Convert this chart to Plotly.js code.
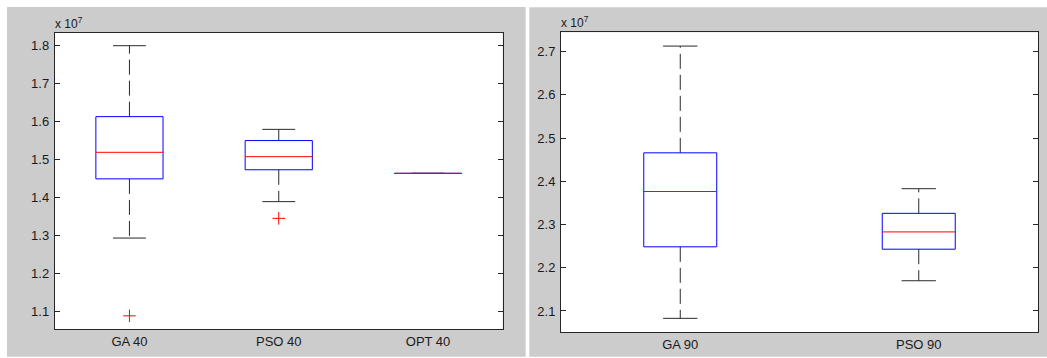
<!DOCTYPE html>
<html>
<head>
<meta charset="utf-8">
<script src="https://cdn.plot.ly/plotly-3.0.1.min.js"></script>
<style>html,body{margin:0;padding:0;background:#fff;}#chart{width:1047px;height:358px;}</style>
</head>
<body>
<div id="chart"></div>
<script>
// Values are in units of 10^7 (as shown on the axes)
const cats40 = ['GA 40', 'PSO 40', 'OPT 40'];
const lower40 = [1.293, 1.389, 1.4635];
const q1_40 = [1.449, 1.473, 1.4635];
const median40 = [1.519, 1.5075, 1.4635];
const q3_40 = [1.613, 1.550, 1.4635];
const upper40 = [1.800, 1.5795, 1.4635];
const outliers40 = [[1.088], [1.345], []];

const cats90 = ['GA 90', 'PSO 90'];
const lower90 = [2.083, 2.170];
const q1_90 = [2.2485, 2.243];
const median90 = [2.3765, 2.283];
const q3_90 = [2.466, 2.326];
const upper90 = [2.713, 2.383];
const outliers90 = [[], []];

const ticks40 = [1.1, 1.2, 1.3, 1.4, 1.5, 1.6, 1.7, 1.8];
const ticks90 = [2.1, 2.2, 2.3, 2.4, 2.5, 2.6, 2.7];

const W = 1047, H = 358;
const WHISK = '#2a2a2a';

function boxTraces(cats, lo, q1, med, q3, hi, outs, xa, ya, boxHalf, capHalf) {
  const wx = [], wy = [], cx = [], cy = [], bx = [], by = [], mx = [], my = [], ox = [], oy = [];
  cats.forEach((c, k) => {
    const i = k + 1;
    wx.push(i, i, null, i, i, null);
    wy.push(q3[k], hi[k], null, q1[k], lo[k], null);
    cx.push(i - capHalf, i + capHalf, null, i - capHalf, i + capHalf, null);
    cy.push(hi[k], hi[k], null, lo[k], lo[k], null);
    bx.push(i - boxHalf, i + boxHalf, i + boxHalf, i - boxHalf, i - boxHalf, null);
    by.push(q1[k], q1[k], q3[k], q3[k], q1[k], null);
    mx.push(i - boxHalf, i + boxHalf, null);
    my.push(med[k], med[k], null);
    outs[k].forEach(v => { ox.push(i); oy.push(v); });
  });
  const base = {type: 'scatter', mode: 'lines', xaxis: xa, yaxis: ya, hoverinfo: 'skip', showlegend: false, connectgaps: false};
  return [
    Object.assign({}, base, {x: wx, y: wy, line: {color: WHISK, width: 1, dash: '15px,6px'}}),
    Object.assign({}, base, {x: cx, y: cy, line: {color: WHISK, width: 1}}),
    Object.assign({}, base, {x: bx, y: by, line: {color: '#0000ff', width: 1}}),
    Object.assign({}, base, {x: mx, y: my, line: {color: '#ff0000', width: 1}}),
    Object.assign({}, base, {x: ox, y: oy, mode: 'markers',
      marker: {symbol: 'cross-thin-open', size: 9, line: {color: '#ff0000', width: 1}, color: '#ff0000'}})
  ];
}

const data = [].concat(
  boxTraces(cats40, lower40, q1_40, median40, q3_40, upper40, outliers40, 'x', 'y', 0.225, 0.11),
  boxTraces(cats90, lower90, q1_90, median90, q3_90, upper90, outliers90, 'x2', 'y2', 0.153, 0.072)
);

const font = {family: '"Liberation Sans", Arial, sans-serif', size: 13, color: '#1a1a1a'};
const smallFont = {family: '"Liberation Sans", Arial, sans-serif', size: 12, color: '#1a1a1a'};
const axLine = {showline: true, linecolor: '#262626', linewidth: 1, mirror: true, zeroline: false, showgrid: false};

const layout = {
  width: W, height: H,
  margin: {l: 0, r: 0, t: 0, b: 0},
  paper_bgcolor: '#ffffff',
  plot_bgcolor: '#ffffff',
  font: font,
  showlegend: false,
  xaxis: Object.assign({}, axLine, {
    domain: [54.8 / W, 502.7 / W], range: [0.5, 3.5], anchor: 'y',
    tickvals: [1, 2, 3], ticktext: cats40, ticks: '', tickfont: font
  }),
  yaxis: Object.assign({}, axLine, {
    domain: [1 - 329 / H, 1 - 32.5 / H], range: [1.0533, 1.8348], anchor: 'x',
    tickvals: ticks40, ticktext: ticks40.map(v => v.toFixed(1)),
    ticks: 'inside', ticklen: 5, tickcolor: '#262626', mirror: 'ticks', tickfont: font,
    ticklabelstandoff: 2
  }),
  xaxis2: Object.assign({}, axLine, {
    domain: [561 / W, 1038 / W], range: [0.5, 2.5], anchor: 'y2',
    tickvals: [1, 2], ticktext: cats90, ticks: '', tickfont: font
  }),
  yaxis2: Object.assign({}, axLine, {
    domain: [1 - 332.3 / H, 1 - 32.3 / H], range: [2.0507, 2.7449], anchor: 'x2',
    tickvals: ticks90, ticktext: ticks90.map(v => v.toFixed(1)),
    ticks: 'inside', ticklen: 5, tickcolor: '#262626', mirror: 'ticks', tickfont: font,
    ticklabelstandoff: 2
  }),
  shapes: [
    {type: 'rect', xref: 'paper', yref: 'paper', layer: 'below',
     x0: 7 / W, x1: 525.7 / W, y0: 1 - 356.7 / H, y1: 1 - 7 / H,
     fillcolor: '#cccccc', line: {width: 0}},
    {type: 'rect', xref: 'paper', yref: 'paper', layer: 'below',
     x0: 529.3 / W, x1: 1, y0: 1 - 356.7 / H, y1: 1 - 7.3 / H,
     fillcolor: '#cccccc', line: {width: 0}},
    {type: 'rect', xref: 'x domain', yref: 'y domain', layer: 'below',
     x0: 0, x1: 1, y0: 0, y1: 1, fillcolor: '#ffffff', line: {width: 0}},
    {type: 'rect', xref: 'x2 domain', yref: 'y2 domain', layer: 'below',
     x0: 0, x1: 1, y0: 0, y1: 1, fillcolor: '#ffffff', line: {width: 0}}
  ],
  annotations: [
    {xref: 'paper', yref: 'paper', x: 54.8 / W, y: 1 - 32.5 / H, xanchor: 'left', yanchor: 'bottom',
     xshift: -2, text: 'x 10<sup>7</sup>', showarrow: false, font: smallFont},
    {xref: 'paper', yref: 'paper', x: 561 / W, y: 1 - 32.3 / H, xanchor: 'left', yanchor: 'bottom',
     xshift: -2, text: 'x 10<sup>7</sup>', showarrow: false, font: smallFont}
  ]
};

Plotly.newPlot('chart', data, layout, {staticPlot: true, displayModeBar: false});
</script>
</body>
</html>
